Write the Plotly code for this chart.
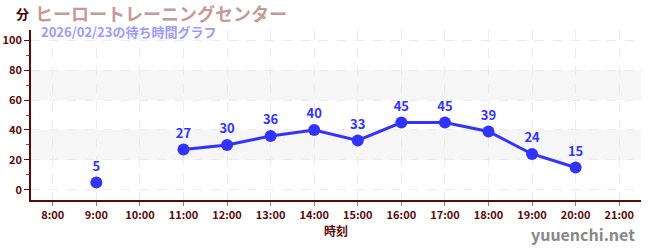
import plotly.graph_objects as go

hours = [8, 9, 10, 11, 12, 13, 14, 15, 16, 17, 18, 19, 20, 21]
tick_labels = [f"{h}:00" for h in hours]
x_hours = [9, 10, 11, 12, 13, 14, 15, 16, 17, 18, 19, 20]
wait_min = [5, None, 27, 30, 36, 40, 33, 45, 45, 39, 24, 15]
y_ticks = [0, 20, 40, 60, 80, 100]

title_text = "ヒーロートレーニングセンター"
subtitle_text = "2026/02/23の待ち時間グラフ"
font = "Noto Sans CJK JP"
axis_col = "#5a0a0a"
blue = "#3333ff"

fig = go.Figure()
fig.add_trace(go.Scatter(
    x=x_hours, y=wait_min, mode="lines+markers+text",
    line=dict(color=blue, width=3), marker=dict(color=blue, size=12),
    text=[("" if v is None else str(v)) for v in wait_min],
    textposition="top center",
    textfont=dict(color=blue, size=13, family=font, weight="bold"),
    connectgaps=False, cliponaxis=False, hoverinfo="skip",
))

for lo, hi in [(20, 40), (60, 80)]:
    fig.add_shape(type="rect", xref="paper", x0=0, x1=1, yref="y", y0=lo, y1=hi,
                  fillcolor="#f6f6f6", line=dict(width=0), layer="below")

fig.update_layout(
    width=650, height=250,
    margin=dict(l=31, r=9, t=30, b=50),
    paper_bgcolor="white", plot_bgcolor="white",
    showlegend=False,
    font=dict(family=font, color=axis_col),
    xaxis=dict(
        range=[7.5, 21.5], tickvals=hours, ticktext=tick_labels,
        automargin=False,
        showline=True, linecolor=axis_col, linewidth=1.5,
        ticks="outside", ticklen=4, tickcolor="#888888",
        tickfont=dict(size=11, color=axis_col, family=font, weight="bold"),
        showgrid=True, gridcolor="#ececec", griddash="dash", gridwidth=1,
        zeroline=False,
        title=dict(text="<b>時刻</b>", font=dict(size=12, color=axis_col, family=font), standoff=6),
    ),
    yaxis=dict(
        range=[-6.7, 106.7], tickvals=y_ticks,
        automargin=False,
        showline=True, linecolor=axis_col, linewidth=1.5,
        ticks="outside", ticklen=5, tickcolor=axis_col,
        tickfont=dict(size=11, color=axis_col, family=font, weight="bold"),
        showgrid=True, gridcolor="#ececec", griddash="dash", gridwidth=1,
        zeroline=False,
        minor=dict(tickvals=[10, 30, 50, 70, 90], ticks="outside", ticklen=3,
                   tickcolor="#dd2222", showgrid=False),
    ),
    annotations=[
        dict(text="<b>分</b>", xref="paper", yref="paper", x=0, xshift=-9, y=1.0, yshift=17,
             xanchor="center", yanchor="middle", showarrow=False,
             font=dict(size=13, color="#4a0000", family=font)),
        dict(text="<b>" + title_text + "</b>", xref="paper", yref="paper", x=0, xshift=2, y=1.0, yshift=17,
             xanchor="left", yanchor="middle", showarrow=False,
             font=dict(size=18, color="#c49a9a", family=font)),
        dict(text="<b>" + subtitle_text + "</b>", xref="paper", yref="paper", x=0, xshift=8, y=1.0, yshift=-1,
             xanchor="left", yanchor="middle", showarrow=False,
             font=dict(size=13, color="#9b9bff", family=font)),
        dict(text="<b>yuuenchi.net</b>", xref="paper", yref="paper", x=1.0, xshift=-4, y=0, yshift=-48,
             xanchor="right", yanchor="bottom", showarrow=False,
             font=dict(size=16, color="#888888", family=font)),
    ],
)

fig.write_html("out.html")
